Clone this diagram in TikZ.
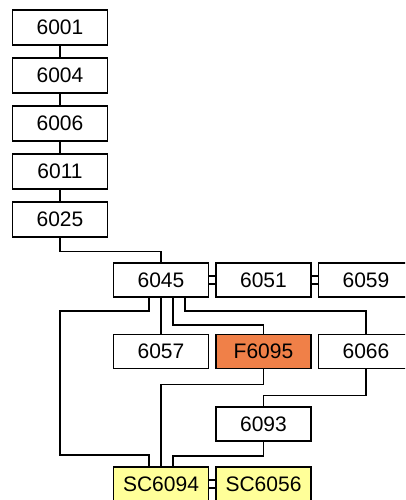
\documentclass[tikz,border=0pt]{standalone}
\usepackage{fontspec}
\setmainfont{Liberation Sans}
\usepackage{tikz}
\usetikzlibrary{calc}
\definecolor{failfill}{RGB}{240,128,72}
\definecolor{scfill}{RGB}{255,255,153}

\begin{document}
\begin{tikzpicture}[
    x=1pt, y=1pt, node distance=48pt, line width=1.5pt,
    every node/.style={draw, rectangle, fill=white, minimum width=95pt, minimum height=34pt, inner sep=0pt, font=\fontsize{21pt}{24pt}\selectfont}
]
\clip (0,0) rectangle (405,-500);
\node (n6001) [minimum height=35pt] at (60,-27.5) {6001};
\node (n6004) [minimum height=35pt, below of=n6001] {6004};
\node (n6006) [minimum height=35pt, below of=n6004] {6006};
\node (n6011) [minimum height=35pt, below of=n6006] {6011};
\node (n6025) [minimum height=35pt, below of=n6011] {6025};
\node (n6045) [below of=n6025, xshift=101pt, yshift=-12.5pt] {6045};
\node (n6051) [right of=n6045, xshift=54.5pt] {6051};
\node (n6059) [right of=n6051, xshift=54.5pt] {6059};
\node (n6057) [below of=n6045, yshift=-23.5pt] {6057};
\node (nF6095) [right of=n6057, xshift=54.5pt, fill=failfill] {F6095};
\node (n6066) [right of=nF6095, xshift=54.5pt] {6066};
\node (n6093) [below of=nF6095, yshift=-24.5pt] {6093};
\node (nSC6094) [below of=n6057, yshift=-84.5pt, fill=scfill] {SC6094};
\node (nSC6056) [right of=nSC6094, xshift=54.5pt, fill=scfill] {SC6056};
\draw (n6001) -- (n6004);
\draw (n6004) -- (n6006);
\draw (n6006) -- (n6011);
\draw (n6011) -- (n6025);
\draw (n6025.south) -- ++(0,-13.5) -| (n6045.north);
\draw ([xshift=-12pt]n6045.south) -- ++(0,-13) -| ++(-89,-144) -| ([xshift=-12pt]nSC6094.north);
\draw (n6045) -- (n6057);
\draw ([xshift=12pt]n6045.south) -- ++(0,-27) -| (nF6095.north);
\draw ([xshift=24pt]n6045.south) -- ++(0,-13) -| (n6066.north);
\draw (nF6095.south) -- ++(0,-15) -| (nSC6094.north);
\draw (n6066.south) -- ++(0,-26) -| (n6093.north);
\draw (n6093.south) -- ++(0,-14) -| ([xshift=12pt]nSC6094.north);
% side by side links
\foreach \a/\b in {n6045/n6051, n6051/n6059, nSC6094/nSC6056} {
    \draw ([yshift=4pt]\a.east) -- ([yshift=4pt]\b.west);
    \draw ([yshift=-4pt]\a.east) -- ([yshift=-4pt]\b.west);
}
\end{tikzpicture}
\end{document}
